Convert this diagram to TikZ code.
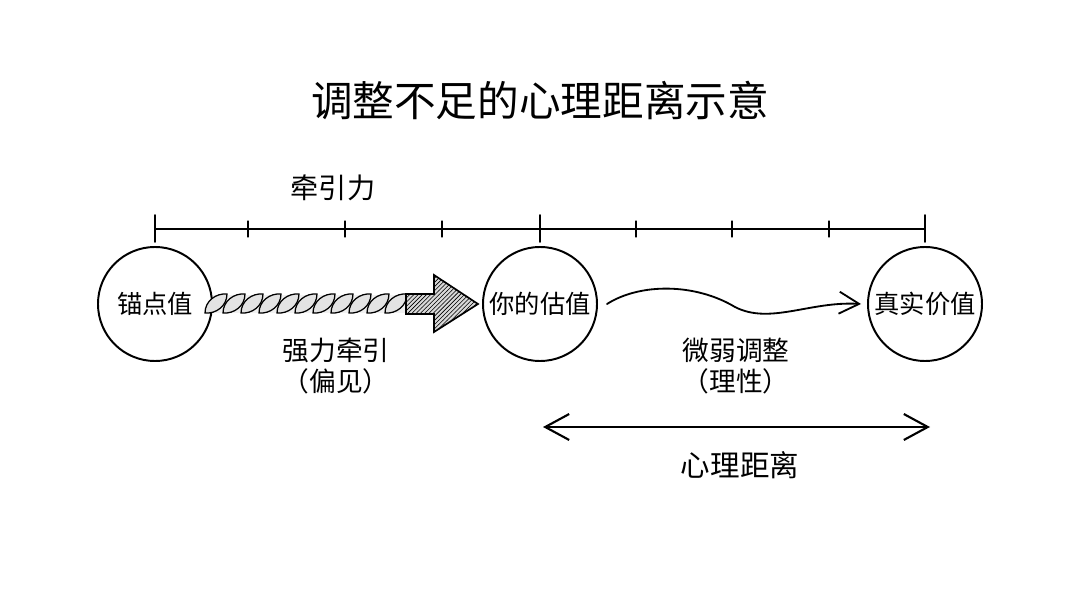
\documentclass[tikz,border=0pt]{standalone}
\usepackage{fontspec}
\setmainfont{Noto Sans CJK SC}
\usetikzlibrary{calc,arrows.meta,patterns}

\begin{document}
\begin{tikzpicture}[x=0.025cm,y=-0.025cm,line cap=round,
        ball/.style={circle,draw,line width=1.4pt,minimum size=2.85cm,inner sep=0pt,font=\fontsize{18}{20}\selectfont},
        lbl/.style={font=\fontsize{19}{22}\selectfont,align=center}]
        \useasboundingbox (0,0) rectangle (1080,603);
        \node (title) at (540,100) {\fontsize{29.6}{32}\selectfont 调整不足的心理距离示意};
        \node (pull) at (333,188) {\fontsize{20}{22}\selectfont 牵引力};
        % ruler
        \coordinate (rl) at (155,229);
        \coordinate (rr) at (925,229);
        \draw [line width=1pt] (rl) -- (rr);
        \foreach \x in {155,540,925} \draw [line width=1.1pt] (\x,215) -- (\x,242);
        \foreach \x in {248,345,442,636,732,829} \draw [line width=0.8pt] (\x,221) -- (\x,237);
        % the three values
        \node (anchor) at (155,304) [ball] {锚点值};
        \node (guess) at (540,304) [ball] {你的估值};
        \node (truth) at (925,304) [ball] {真实价值};
        % rope
        \fill [gray!12] (anchor.east |- 0,295) rectangle (408,313);
        \foreach \x in {205,223,...,387}
            \draw [line width=0.9pt,fill=gray!22] (\x,313) .. controls (\x,301) and (\x+11,293) .. (\x+22,294) .. controls (\x+22,306) and (\x+11,314) .. cycle;
        \draw [line width=1.2pt,preaction={fill=gray!30},pattern=north east lines]
            (406,294) -- (434,294) -- (434,275) -- ($(guess.west)+(-4,0)$) -- (434,332) -- (434,314) -- (406,314) -- cycle;
        \node [lbl] at (336,366) {强力牵引\\（偏见）};
        % weak adjustment
        \draw [line width=1.3pt,-{Straight Barb[length=0.5cm,width=0.55cm]}]
            ($(guess.east)+(9,0)$) .. controls (640,283) and (695,283) .. (735,307) .. controls (770,325) and (810,301) .. ($(truth.west)+(-6,0)$);
        \node [lbl] at (736,366) {微弱调整\\（理性）};
        % distance
        \coordinate (dl) at (543,427);
        \coordinate (dr) at (930,427);
        \draw [line width=1.5pt,{Straight Barb[length=0.6cm,width=0.65cm]}-{Straight Barb[length=0.6cm,width=0.65cm]}] (dl) -- (dr);
        \node (dist) at (740,465) {\fontsize{21}{24}\selectfont 心理距离};
    \end{tikzpicture}
\end{document}
